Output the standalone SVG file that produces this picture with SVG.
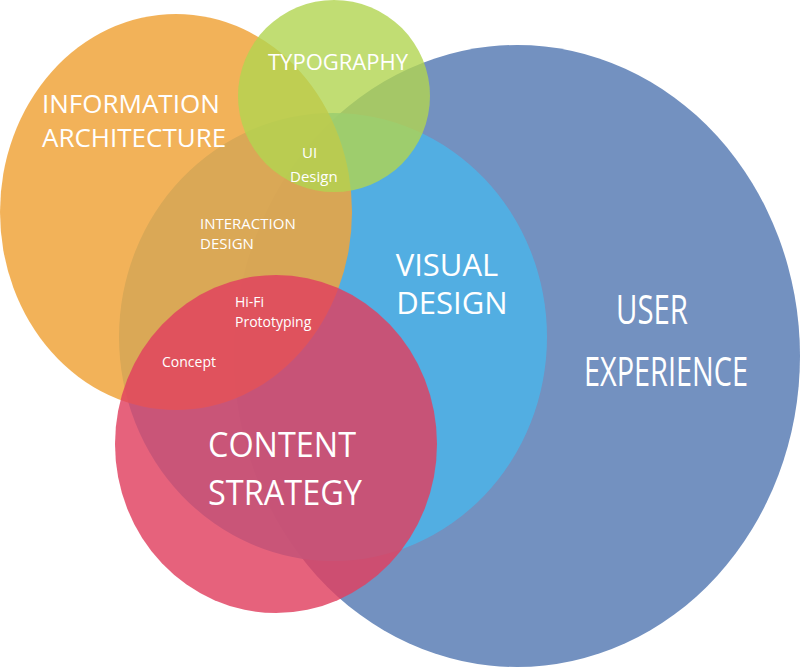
<svg xmlns="http://www.w3.org/2000/svg" width="800" height="668" viewBox="0 0 800 668">
<style>
text{fill:#fff;font-family:"Open Sans","Liberation Sans",sans-serif}
.m{text-anchor:middle}
</style>
<rect width="800" height="668" fill="#fff"/>
<g id="ux"><ellipse cx="517" cy="356" rx="283" ry="311" fill="#7391c0"/></g>
<g id="visual"><ellipse cx="333" cy="337" rx="214" ry="224" fill="#4fb1e6" opacity="0.9"/></g>
<g id="ia"><ellipse cx="176" cy="212" rx="176" ry="198" fill="#f0a43c" opacity="0.85"/></g>
<g id="content"><ellipse cx="276" cy="444" rx="161" ry="169" fill="#e0405f" opacity="0.82"/></g>
<g id="typo"><ellipse cx="334" cy="96" rx="96" ry="96" fill="#b2d450" opacity="0.8"/></g>
<g id="labels">
<text x="42" y="113" font-size="26">INFORMATION</text>
<text x="42" y="147" font-size="26">ARCHITECTURE</text>
<text class="m" x="338" y="70" font-size="22">TYPOGRAPHY</text>
<text x="302" y="158" font-size="15">UI</text>
<text x="290" y="182" font-size="15">Design</text>
<text x="200" y="229" font-size="15">INTERACTION</text>
<text x="200" y="249" font-size="15">DESIGN</text>
<text class="m" x="447" y="276" font-size="31">VISUAL</text>
<text class="m" x="452" y="314" font-size="31">DESIGN</text>
<text class="m" x="652" y="324" font-size="40" textLength="72" lengthAdjust="spacingAndGlyphs">USER</text>
<text class="m" x="666" y="386" font-size="40" textLength="164" lengthAdjust="spacingAndGlyphs">EXPERIENCE</text>
<text x="235" y="307" font-size="14">Hi-Fi</text>
<text x="235" y="327" font-size="14">Prototyping</text>
<text x="162" y="367" font-size="14">Concept</text>
<text class="m" x="282" y="457" font-size="34" textLength="148" lengthAdjust="spacingAndGlyphs">CONTENT</text>
<text class="m" x="285" y="505" font-size="34" textLength="154" lengthAdjust="spacingAndGlyphs">STRATEGY</text>
</g>
</svg>
